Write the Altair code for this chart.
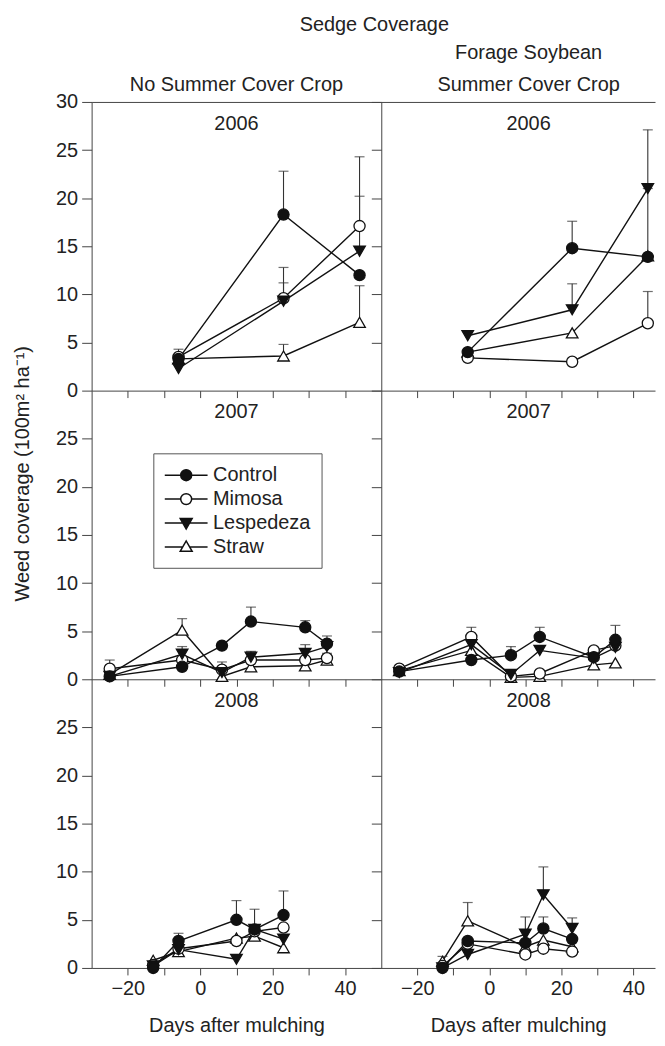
import altair as alt
import pandas as pd

FONT = "Liberation Sans"
SERIES = ["Control", "Mimosa", "Lespedeza", "Straw"]
YEARS = ["2006", "2007", "2008"]
MAIN_TITLE = "Sedge Coverage"
COL_HEADERS = [["No Summer Cover Crop"], ["Forage Soybean", "Summer Cover Crop"]]

DAYS_2006 = [-6, 23, 44]
DAYS_2007 = [-25, -5, 6, 14, 29, 35]
DAYS_2008 = [-13, -6, 10, 15, 23]

# ---- 2006, no summer cover crop
N06_CONTROL = [3.3, 18.3, 12.0]
N06_MIMOSA = [3.5, 9.6, 17.1]
N06_LESPEDEZA = [2.3, 9.3, 14.5]
N06_STRAW = [3.3, 3.6, 7.1]
N06_CONTROL_ERR = [4.3, 22.8, None]
N06_MIMOSA_ERR = [None, 11.2, 24.3]
N06_LESPEDEZA_ERR = [None, 12.8, 20.2]
N06_STRAW_ERR = [None, 4.8, 10.9]
# ---- 2006, forage soybean
F06_CONTROL = [4.0, 14.8, 13.9]
F06_MIMOSA = [3.4, 3.0, 7.0]
F06_LESPEDEZA = [5.7, 8.4, 21.0]
F06_STRAW = [4.0, 6.0, 14.0]
F06_CONTROL_ERR = [None, 17.6, None]
F06_MIMOSA_ERR = [4.0, None, 10.3]
F06_LESPEDEZA_ERR = [None, 11.1, 27.1]
F06_STRAW_ERR = [None, None, 21.0]
# ---- 2007, no summer cover crop
N07_CONTROL = [0.3, 1.3, 3.5, 6.0, 5.4, 3.7]
N07_MIMOSA = [1.1, 2.0, 1.0, 2.0, 2.0, 2.2]
N07_LESPEDEZA = [0.3, 2.6, 0.7, 2.3, 2.7, 3.4]
N07_STRAW = [0.5, 5.1, 0.3, 1.3, 1.4, 2.0]
N07_CONTROL_ERR = [None, None, None, 7.5, 6.1, 4.5]
N07_MIMOSA_ERR = [2.0, None, 1.8, None, None, 2.7]
N07_LESPEDEZA_ERR = [None, 3.4, None, 2.9, 3.6, None]
N07_STRAW_ERR = [None, 6.3, None, None, None, None]
# ---- 2007, forage soybean
F07_CONTROL = [0.8, 2.0, 2.5, 4.4, 2.3, 4.1]
F07_MIMOSA = [1.1, 4.4, 0.3, 0.6, 3.0, 3.5]
F07_LESPEDEZA = [0.7, 3.6, 0.5, 3.0, 2.2, 3.3]
F07_STRAW = [0.9, 3.0, 0.2, 0.3, 1.5, 1.7]
F07_CONTROL_ERR = [None, None, 3.4, 5.4, None, 5.6]
F07_MIMOSA_ERR = [1.3, 5.4, None, None, 3.3, None]
F07_LESPEDEZA_ERR = [None, None, None, None, None, None]
F07_STRAW_ERR = [None, None, None, None, None, None]
# ---- 2008, no summer cover crop
N08_CONTROL = [0.0, 2.8, 5.0, 4.0, 5.5]
N08_MIMOSA = [0.3, 2.0, 2.8, 3.8, 4.2]
N08_LESPEDEZA = [0.2, 1.9, 0.9, 4.0, 3.0]
N08_STRAW = [0.8, 1.7, 3.1, 3.3, 2.1]
N08_CONTROL_ERR = [None, 3.6, 7.0, 6.1, 8.0]
N08_MIMOSA_ERR = [None, None, None, None, None]
N08_LESPEDEZA_ERR = [None, None, None, None, None]
N08_STRAW_ERR = [None, None, None, None, None]
# ---- 2008, forage soybean
F08_CONTROL = [0.0, 2.8, 2.6, 4.1, 3.0]
F08_MIMOSA = [0.2, 2.5, 1.4, 2.0, 1.7]
F08_LESPEDEZA = [0.0, 1.4, 3.5, 7.6, 4.1]
F08_STRAW = [0.7, 4.9, 2.2, 2.9, 2.2]
F08_CONTROL_ERR = [None, None, None, 5.3, None]
F08_MIMOSA_ERR = [None, None, None, None, None]
F08_LESPEDEZA_ERR = [None, None, 5.3, 10.5, 5.2]
F08_STRAW_ERR = [1.2, 6.8, None, None, None]

PANELS = {
    ("2006", 0): (DAYS_2006, [N06_CONTROL, N06_MIMOSA, N06_LESPEDEZA, N06_STRAW],
                  [N06_CONTROL_ERR, N06_MIMOSA_ERR, N06_LESPEDEZA_ERR, N06_STRAW_ERR]),
    ("2006", 1): (DAYS_2006, [F06_CONTROL, F06_MIMOSA, F06_LESPEDEZA, F06_STRAW],
                  [F06_CONTROL_ERR, F06_MIMOSA_ERR, F06_LESPEDEZA_ERR, F06_STRAW_ERR]),
    ("2007", 0): (DAYS_2007, [N07_CONTROL, N07_MIMOSA, N07_LESPEDEZA, N07_STRAW],
                  [N07_CONTROL_ERR, N07_MIMOSA_ERR, N07_LESPEDEZA_ERR, N07_STRAW_ERR]),
    ("2007", 1): (DAYS_2007, [F07_CONTROL, F07_MIMOSA, F07_LESPEDEZA, F07_STRAW],
                  [F07_CONTROL_ERR, F07_MIMOSA_ERR, F07_LESPEDEZA_ERR, F07_STRAW_ERR]),
    ("2008", 0): (DAYS_2008, [N08_CONTROL, N08_MIMOSA, N08_LESPEDEZA, N08_STRAW],
                  [N08_CONTROL_ERR, N08_MIMOSA_ERR, N08_LESPEDEZA_ERR, N08_STRAW_ERR]),
    ("2008", 1): (DAYS_2008, [F08_CONTROL, F08_MIMOSA, F08_LESPEDEZA, F08_STRAW],
                  [F08_CONTROL_ERR, F08_MIMOSA_ERR, F08_LESPEDEZA_ERR, F08_STRAW_ERR]),
}

# legend symbols: a short line with the marker on it
LEGEND_PATHS = [
    "M-2.15,0H-0.55M0.55,0H2.15M-0.55,0A0.55,0.55,0,1,1,0.55,0A0.55,0.55,0,1,1,-0.55,0Z",
    "M-2.15,0H-0.55M0.55,0H2.15M-0.55,0A0.55,0.55,0,1,1,0.55,0A0.55,0.55,0,1,1,-0.55,0Z",
    "M-2.15,0H-0.343M0.343,0H2.15M-0.6,-0.45L0.6,-0.45L0,0.6Z",
    "M-2.15,0H-0.343M0.343,0H2.15M-0.6,0.45L0.6,0.45L0,-0.6Z",
]
FILLS = ["#111111", "white", "#111111", "white"]
SHAPES = ["circle", "circle", "triangle-down", "triangle-up"]
INK = "#111111"
TXT = "#222222"
AXIS_C = "#444444"


def panel_df(year, col):
    days, vals, errs = PANELS[(year, col)]
    rows = []
    for s, v, e in zip(SERIES, vals, errs):
        for d, vv, ee in zip(days, v, e):
            rows.append({"series": s, "day": d, "value": vv, "err": ee})
    return pd.DataFrame(rows)


def text_layer(txt, x, y):
    return alt.Chart(pd.DataFrame({"t": [txt]})).mark_text(
        fontSize=20, font=FONT, color=TXT, baseline="middle", align="center"
    ).encode(text="t:N", x=alt.value(x), y=alt.value(y))


def panel(year, col, row):
    df = panel_df(year, col)
    w = 291 if col == 0 else 275
    cx = w / 2 if col == 0 else 148
    xdom = [-30, 50] if col == 0 else [-30, 46]
    xs = alt.Scale(domain=xdom, nice=False, zero=False)
    ys = alt.Scale(domain=[0, 30], nice=False)
    bottom = row == 2
    xax = dict(values=list(range(-20, 41, 10)), orient="bottom", tickSize=7,
               labelPadding=4, domainColor=AXIS_C, tickColor=AXIS_C, grid=False)
    if bottom:
        xax.update(labelExpr="datum.value % 20 == 0 ? datum.label : ''",
                   title="Days after mulching", titlePadding=17)
    else:
        xax.update(labels=False, title=None)
    yvals = list(range(0, 31, 5)) if row == 0 else list(range(0, 26, 5))
    yax = dict(values=yvals, tickSize=10, labelPadding=4, domainColor=AXIS_C,
               tickColor=AXIS_C, grid=False)
    if col == 0:
        if row == 1:
            yax.update(title="Weed coverage (100m² ha⁻¹)", titlePadding=23, titleY=83)
        else:
            yax.update(title=None)
    else:
        yax.update(labels=False, title=None)

    # secondary layers: y axis left unspecified (merges into the main axis);
    # x axis disabled only in the top row, where a separate top axis exists
    def X(field="day:Q", axis_top=False):
        if row == 0:
            if axis_top:
                return alt.X(field, scale=xs, axis=alt.Axis(
                    orient="top", labels=False, ticks=False, domain=True,
                    domainColor=AXIS_C, title=None, grid=False))
            return alt.X(field, scale=xs, axis=None)
        return alt.X(field, scale=xs)

    def Y(field="value:Q"):
        return alt.Y(field, scale=ys)

    base = alt.Chart(df)
    lines = base.mark_line(color=INK, strokeWidth=1.4).encode(
        x=alt.X("day:Q", scale=xs, axis=alt.Axis(**xax)),
        y=alt.Y("value:Q", scale=ys, axis=alt.Axis(**yax)),
        detail="series:N",
        order="day:Q",
    )
    errbase = base.transform_filter("isValid(datum.err)")
    rules = errbase.mark_rule(color="#333333", strokeWidth=1.1).encode(
        x=X(axis_top=True), y=Y(), y2="err:Q",
    )
    caps = errbase.mark_tick(orient="horizontal", size=10, thickness=1.2, color="#333333").encode(
        x=X(), y=Y("err:Q"),
    )
    layers = [lines, rules, caps]
    order = [3, 1, 2, 0]
    for i in order:
        layers.append(
            base.transform_filter(alt.datum.series == SERIES[i]).mark_point(
                shape=SHAPES[i], filled=True, fill=FILLS[i], stroke=INK, strokeWidth=1.3,
                size=125 if SHAPES[i] == "circle" else 135, opacity=1,
            ).encode(x=X(), y=Y())
        )
    layers.append(text_layer(year, cx, 22))
    if row == 0:
        hdr = COL_HEADERS[col]
        ys_hdr = [-17] if len(hdr) == 1 else [-49, -17]
        for t, yy in zip(hdr, ys_hdr):
            layers.append(text_layer(t, cx, yy))
        if col == 0:
            layers.append(text_layer(MAIN_TITLE, 284, -77))
    if row == 1 and col == 0:
        leg = alt.Chart(pd.DataFrame({"series": SERIES, "day": [0] * 4, "value": [-50] * 4})).mark_point(
            filled=True, strokeWidth=1.5, clip=True, opacity=1
        ).encode(
            x=X(), y=Y(),
            shape=alt.Shape("series:N", scale=alt.Scale(domain=SERIES, range=LEGEND_PATHS),
                            legend=alt.Legend(title=None)),
            fill=alt.Fill("series:N", scale=alt.Scale(domain=SERIES, range=FILLS),
                          legend=alt.Legend(title=None)),
            stroke=alt.Stroke("series:N", scale=alt.Scale(domain=SERIES, range=[INK] * 4),
                              legend=alt.Legend(title=None)),
        )
        layers.append(leg)
    return alt.layer(*layers).properties(width=w, height=290)


panels = []
for r, y in enumerate(YEARS):
    for c in range(2):
        panels.append(panel(y, c, r))

chart = alt.concat(*panels, columns=2, spacing=0, bounds="flush").properties(
    padding={"left": 4, "top": 5, "right": 0, "bottom": 0},
).configure_view(stroke=None).configure_axis(
    labelFont=FONT, titleFont=FONT, labelFontSize=20, titleFontSize=20,
    labelColor=TXT, titleColor=TXT, titleFontWeight="normal",
).configure_legend(
    orient="none", legendX=62, legendY=353,
    labelFont=FONT, labelFontSize=20, labelColor=TXT,
    symbolSize=400, symbolStrokeWidth=1.5, symbolStrokeColor=INK, symbolOffset=11,
    labelOffset=16, rowPadding=3, padding=11,
    strokeColor="#555555", fillColor="white",
)

chart.save("out.html", embed_options={"renderer": "svg", "actions": False})
